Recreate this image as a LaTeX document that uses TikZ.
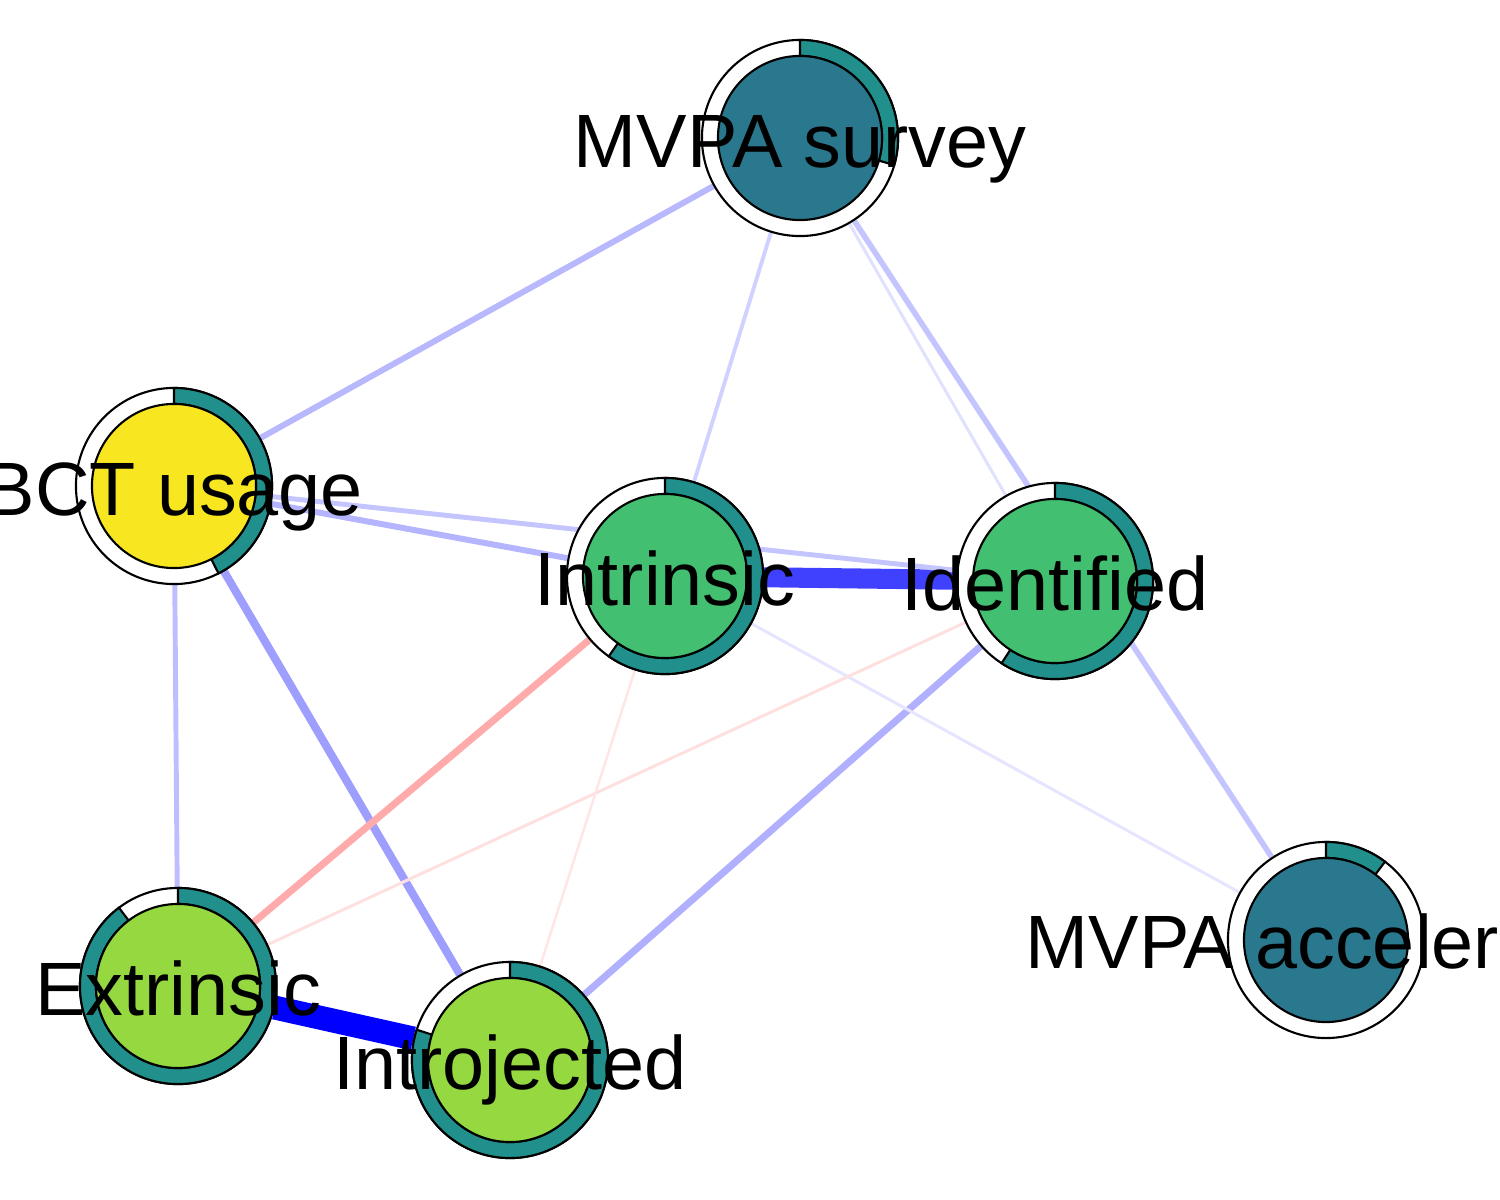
\documentclass[tikz,border=0pt]{standalone}
\usepackage{fontspec}
\setmainfont{Liberation Sans}
\usetikzlibrary{backgrounds}
\definecolor{vsurvey}{HTML}{2A788E}
\definecolor{vpie}{HTML}{21908C}
\definecolor{vyellow}{HTML}{F8E621}
\definecolor{vgreen}{HTML}{43BF71}
\definecolor{vlime}{HTML}{95D840}

\begin{document}
\begin{tikzpicture}[x=0.01cm,y=-0.01cm,
  outer/.style={circle,draw,fill=white,line width=0.6pt,minimum size=1.96cm,inner sep=0pt},
  inner/.style={circle,draw,line width=0.6pt,minimum size=1.64cm,inner sep=0pt},
  pie/.style={fill=vpie,draw=black,line width=0.6pt},
  lbl/.style={font=\fontsize{21.5}{25}\selectfont,inner sep=0pt,anchor=base}]
\useasboundingbox (0,0) rectangle (1500,1200);
\clip (0,0) rectangle (1500,1200);
\node[outer] (survey) at (800,138){};
\node[outer] (bct) at (174,486){};
\node[outer] (intrinsic) at (665,576){};
\node[outer] (identified) at (1055,581){};
\node[outer] (extrinsic) at (178,986){};
\node[outer] (introjected) at (510,1060){};
\node[outer] (acceler) at (1326,940){};
\foreach \n/\ang in {survey/-106,bct/-153,intrinsic/-215,identified/-213,extrinsic/-323,introjected/-288,acceler/-37}{
  \begin{scope}[shift={(\n)}]
  \filldraw[pie] (90:0.98cm) arc[start angle=90,end angle=90+\ang,radius=0.98cm]
    -- (90+\ang:0.82cm) arc[start angle=90+\ang,end angle=90,radius=0.82cm] -- cycle;
  \end{scope}
}
\node[inner,fill=vsurvey] (survey-c) at (survey){};
\node[inner,fill=vyellow] (bct-c) at (bct){};
\node[inner,fill=vgreen] (intrinsic-c) at (intrinsic){};
\node[inner,fill=vgreen] (identified-c) at (identified){};
\node[inner,fill=vlime] (extrinsic-c) at (extrinsic){};
\node[inner,fill=vlime] (introjected-c) at (introjected){};
\node[inner,fill=vsurvey] (acceler-c) at (acceler){};
\node[lbl] (survey-l) at ([yshift=-0.29cm]survey.center){MVPA survey};
\node[lbl] (bct-l) at ([yshift=-0.29cm]bct.center){BCT usage};
\node[lbl] (intrinsic-l) at ([yshift=-0.29cm]intrinsic.center){Intrinsic};
\node[lbl] (identified-l) at ([yshift=-0.29cm]identified.center){Identified};
\node[lbl] (extrinsic-l) at ([yshift=-0.29cm]extrinsic.center){Extrinsic};
\node[lbl] (introjected-l) at ([yshift=-0.29cm]introjected.center){Introjected};
\node[lbl,anchor=base west] (acceler-l) at ([yshift=-0.28cm]1025,940){MVPA acceler};
\begin{pgfonlayer}{background}
\foreach \from/\to/\col/\wd in {extrinsic/introjected/blue/6.8pt,intrinsic/identified/blue!75/5.7pt,
  bct/introjected/blue!38/2.3pt,identified/introjected/blue!31/2pt,survey/bct/blue!28/1.7pt,
  bct/intrinsic/blue!29/1.7pt,bct/identified/blue!23/1.4pt,bct/extrinsic/blue!26/1.4pt,
  survey/acceler/blue!23/1.6pt,survey/intrinsic/blue!18/1.1pt,survey/identified/blue!12/0.85pt,
  intrinsic/acceler/blue!10/0.85pt,intrinsic/extrinsic/red!33/2pt,identified/extrinsic/red!12/0.85pt,
  intrinsic/introjected/red!10/0.7pt}
  \draw[color=\col,line width=\wd] (\from) -- (\to);
\end{pgfonlayer}
\end{tikzpicture}
\end{document}
